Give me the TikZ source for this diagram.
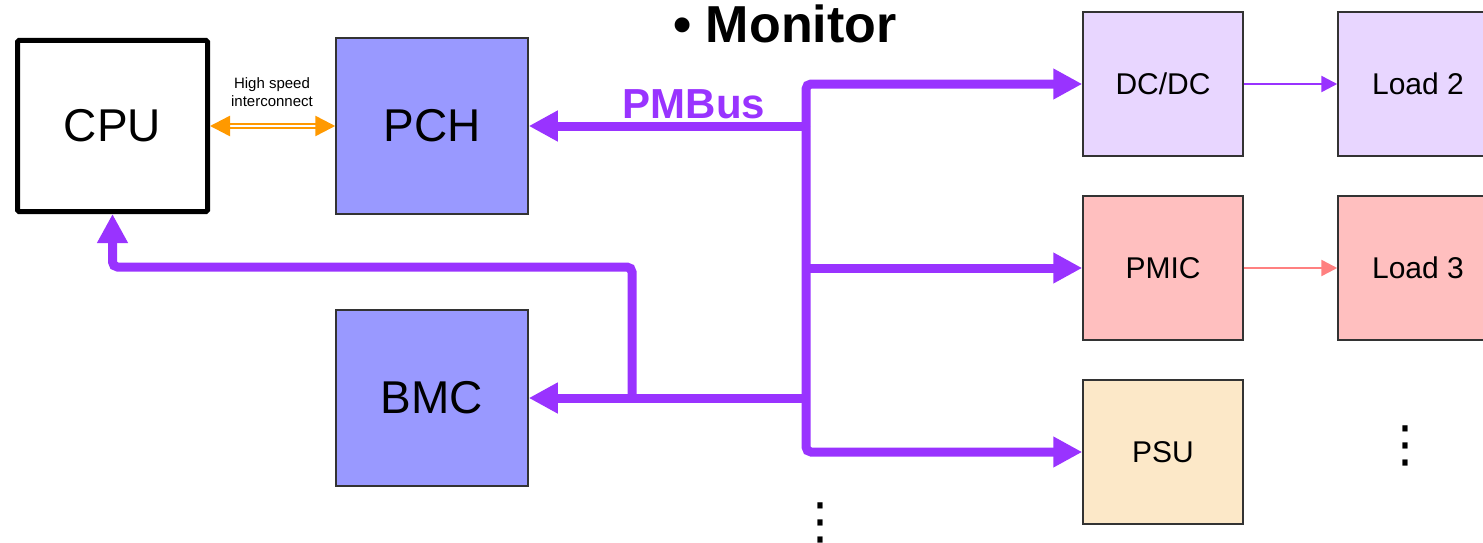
\documentclass[tikz,border=0pt]{standalone}
\usepackage{fontspec}
\setmainfont{Liberation Sans}
\newfontfamily\symfont{DejaVu Sans}
\usetikzlibrary{arrows.meta}
\definecolor{busc}{HTML}{9933FF}
\definecolor{pchc}{HTML}{9999FF}
\definecolor{dcc}{HTML}{E8D6FF}
\definecolor{pmicc}{HTML}{FFBFBF}
\definecolor{psuc}{HTML}{FCE8C8}
\definecolor{orc}{HTML}{FF9900}
\definecolor{salm}{HTML}{FF8080}
\tikzset{
  blk/.style={draw=black!80, line width=1.5pt, inner sep=0pt},
  bigblk/.style={blk, minimum width=192pt, minimum height=176pt, font=\fontsize{46}{50}\selectfont},
  smallblk/.style={blk, minimum width=160pt, minimum height=144pt, font=\fontsize{30}{34}\selectfont},
  bus/.style={busc, line width=9pt, rounded corners=5pt, -{Triangle[length=29pt,width=29pt]}},
  thinarr/.style={line width=2.5pt, -{Triangle[length=16pt,width=16pt]}},
  vdots/.style={font=\symfont\fontsize{50}{50}\selectfont, inner sep=0pt},
}
\begin{document}
\begin{tikzpicture}[x=1pt,y=-1pt]
\useasboundingbox (0,0) rectangle (1483,543);
% blocks
\node[bigblk, draw=black, line width=5pt, rounded corners=1.5pt, minimum width=190pt, minimum height=171pt] (CPU) at (112.5,126) {CPU};
\node[bigblk, fill=pchc] (PCH) at (432,126) {PCH};
\node[bigblk, fill=pchc] (BMC) at (432,398) {BMC};
\node[smallblk, fill=dcc] (DC) at (1163,84) {DC/DC};
\node[smallblk, fill=dcc] (L2) at (1418,84) {Load 2};
\node[smallblk, fill=pmicc] (PMIC) at (1163,268) {PMIC};
\node[smallblk, fill=pmicc] (L3) at (1418,268) {Load 3};
\node[smallblk, fill=psuc] (PSU) at (1163,452) {PSU};
% texts
\node[font=\fontsize{52}{56}\selectfont\bfseries] (mon) at (785,24) {• Monitor};
\node[font=\fontsize{42}{46}\selectfont\bfseries, text=busc] (pmb) at (694,104) {PMBus};
\node[font=\fontsize{15}{18}\selectfont, align=center] (hs) at (272,92) {High speed\\interconnect};
\node[vdots] (d1) at (1405,446) {⋮};
\node[vdots] (d2) at (820,523) {⋮};
% junctions
\coordinate (j1) at (806,126);
\coordinate (j2) at (806,398);
\coordinate (jc) at (632,398);
\coordinate (jl) at (112.5,267);
% bus
\draw[bus] (j1) -- (PCH.east);
\draw[bus] (j1) |- (DC.west);
\draw[bus] (j1) |- (PSU.west);
\draw[bus] (PMIC.west -| j1) -- (PMIC.west);
\draw[bus] (j2) -- (BMC.east);
\draw[bus] (jc) |- (jl) -- (CPU.south);
% thin arrows
\draw[thinarr, busc] (DC.east) -- (L2.west);
\draw[thinarr, salm] (PMIC.east) -- (L3.west);
% high speed interconnect
\draw[orc, line width=2.5pt, double=white, double distance=1.5pt, {Triangle[length=20pt,width=20pt]}-{Triangle[length=20pt,width=20pt]}] (CPU.east) -- (PCH.west);
\end{tikzpicture}
\end{document}
